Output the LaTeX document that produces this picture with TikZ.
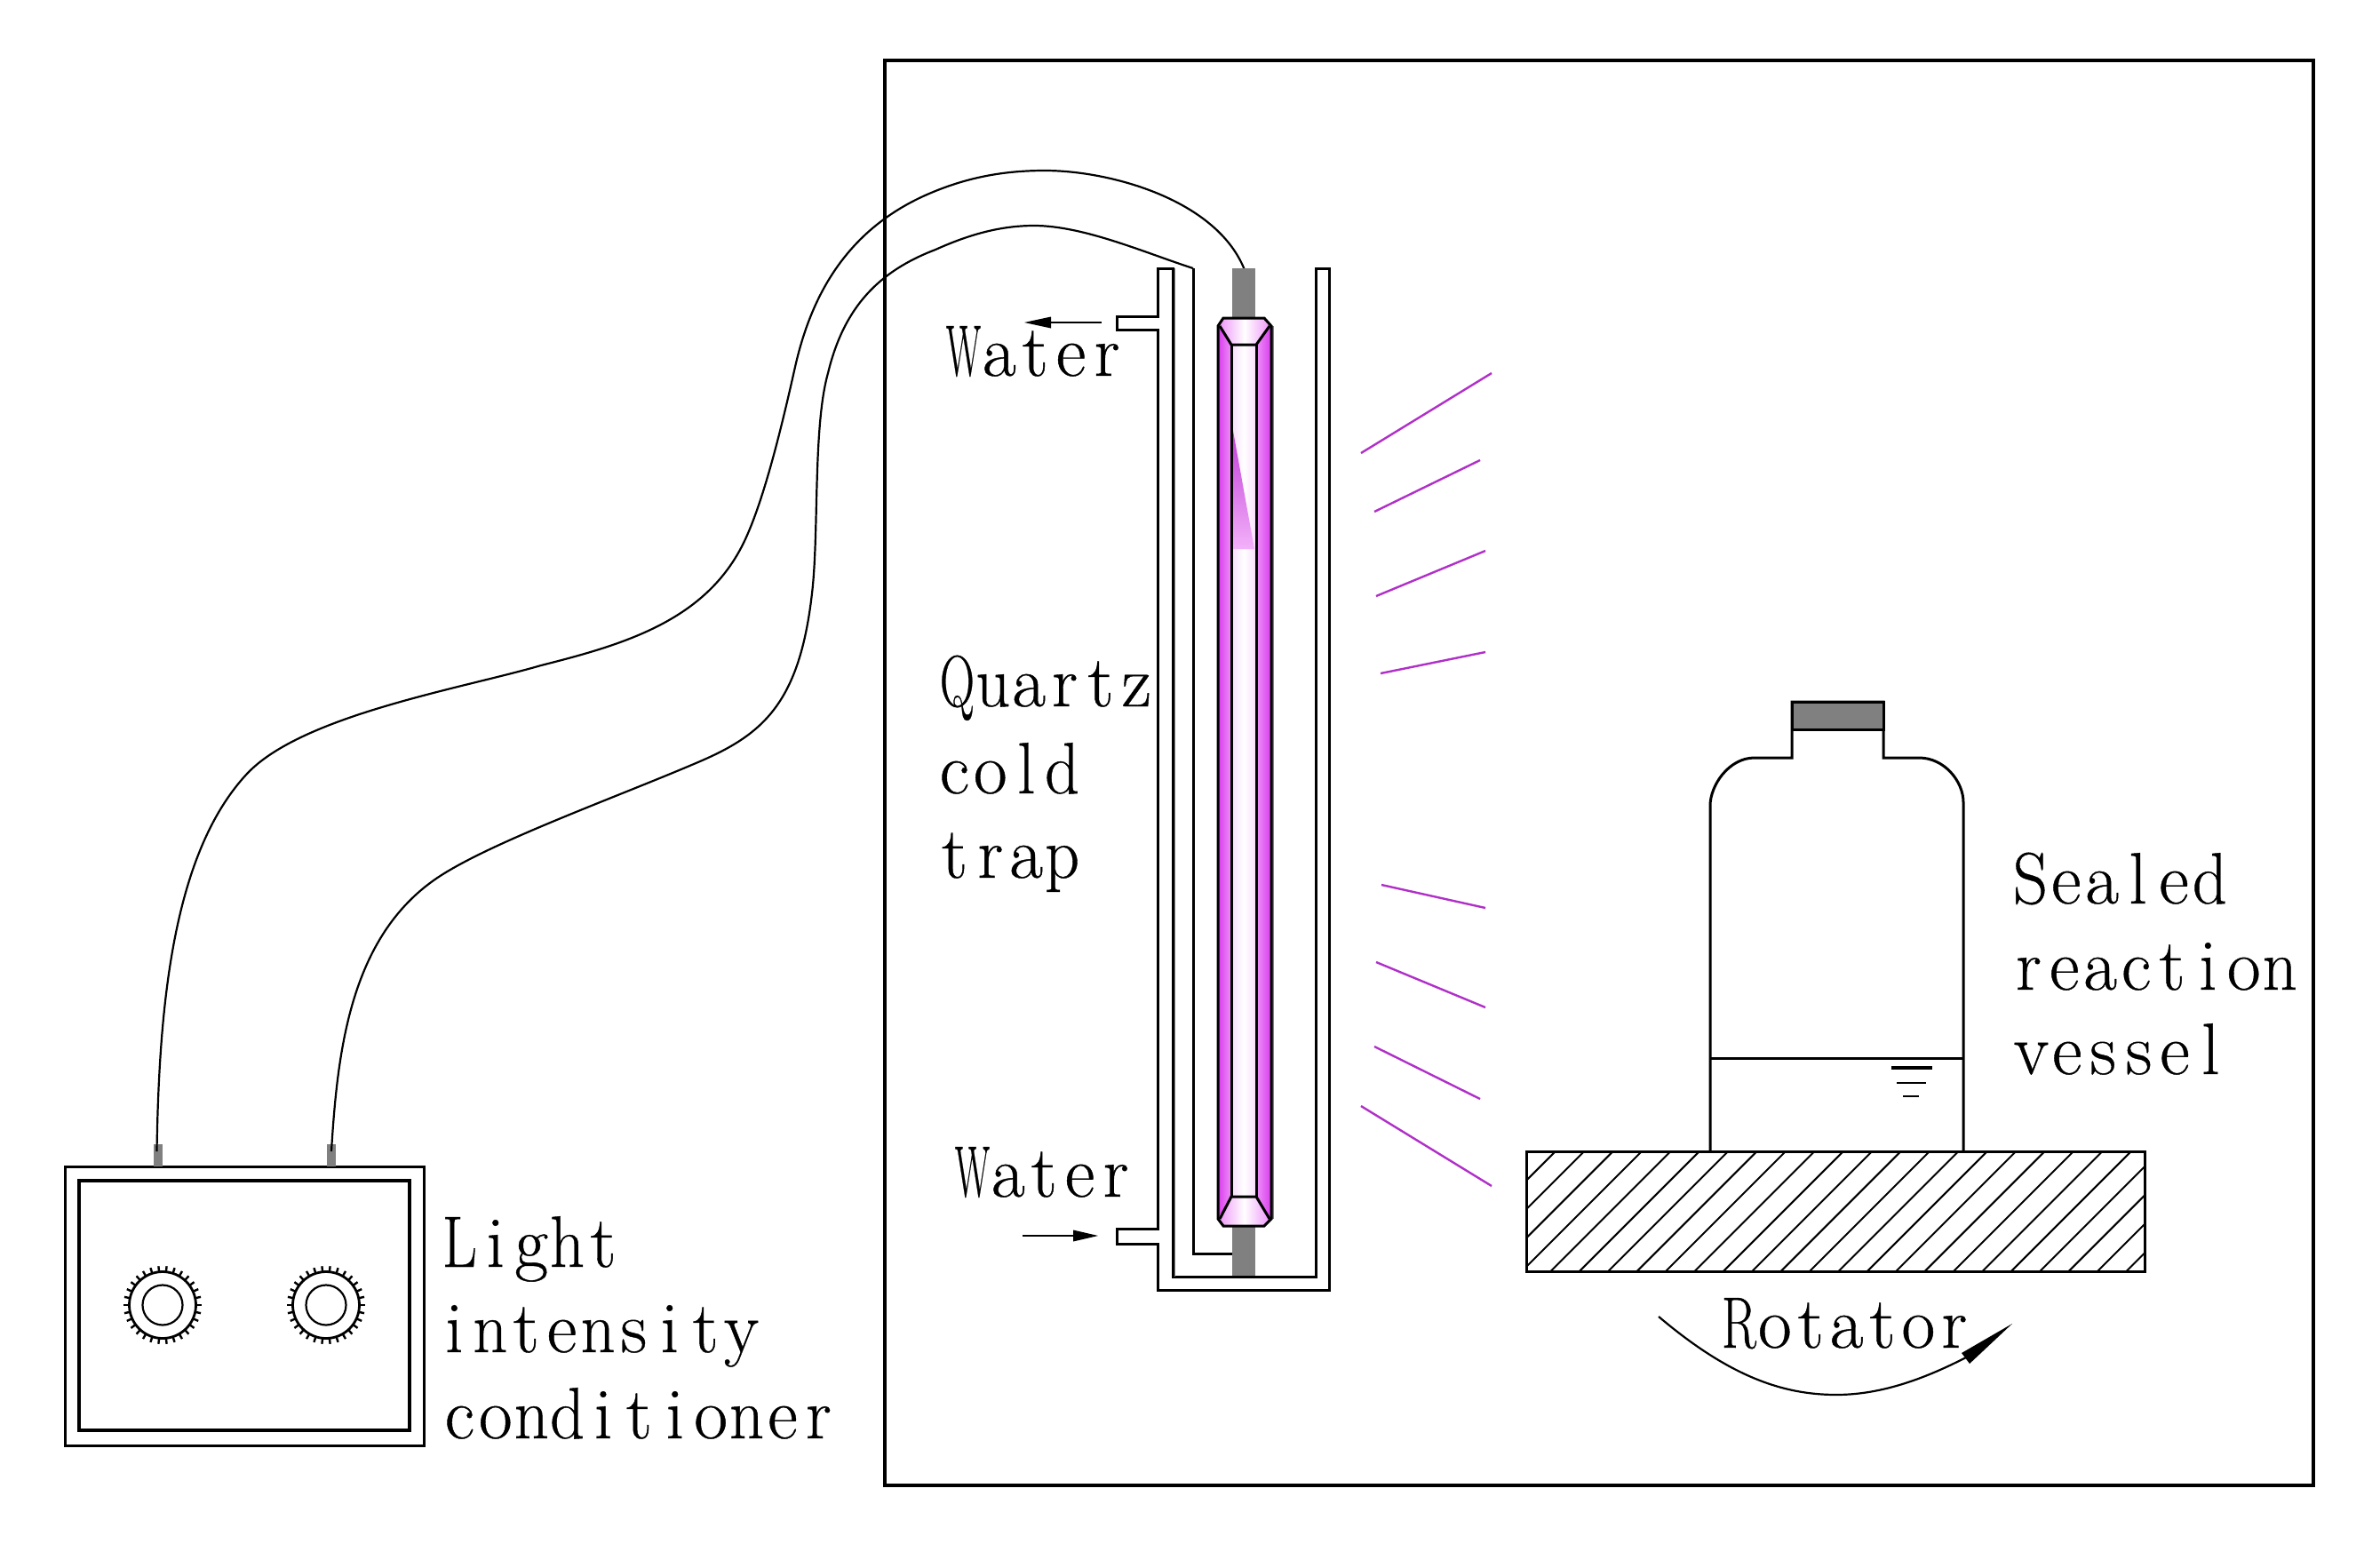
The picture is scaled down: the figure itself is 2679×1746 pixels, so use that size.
\documentclass[tikz,border=0pt]{standalone}
\usepackage{fontspec}
\usepackage{graphicx}
\setmainfont{Latin Modern Roman}[FakeBold=0.5]
\definecolor{uvline}{HTML}{B030C8}
\definecolor{lampdark}{HTML}{D93DEE}
\definecolor{lamplight}{HTML}{EE90F8}
\definecolor{lamppale}{HTML}{F8DCFC}
\definecolor{rodgrey}{HTML}{808080}
\newlength{\mtpitch}\setlength{\mtpitch}{40.4pt}
\newsavebox{\mtbox}
\def\mtchar#1{\sbox{\mtbox}{#1}\ifdim\wd\mtbox>39pt\relax\makebox[\mtpitch][c]{\resizebox{39pt}{\height}{#1}}\else\makebox[\mtpitch][c]{#1}\fi}
\def\mtloop#1{\ifx#1\relax\else\mtchar{#1}\expandafter\mtloop\fi}
\newcommand{\monotext}[1]{\mtloop#1\relax}
\tikzset{
  x=1pt,y=-1pt,
  heavy/.style={line width=3.8pt,black},
  wall/.style={line width=3pt,black,line join=miter},
  thinwall/.style={line width=2.2pt,black},
  wire/.style={line width=2.2pt,black},
  hatchline/.style={line width=2pt,black},
  ray/.style={line width=2.4pt,uvline},
  label/.style={anchor=base west,inner sep=0pt,font=\fontsize{82}{82}\selectfont\addfontfeature{FakeBold=0.5}},
  bandleft/.style={left color=lampdark,right color=lamplight,draw=none},
  bandright/.style={left color=lamplight,right color=lampdark,draw=none},
  bandmid/.style={left color=lamppale,right color=lamppale,middle color=white,draw=none},
  bandcap/.style={left color=lamplight,right color=lamplight,middle color=white,draw=none},
}
\begin{document}
\begin{tikzpicture}
\useasboundingbox (0,0) rectangle (2679,1746);
\fill[white] (0,0) rectangle (2679,1746);
% outer enclosure
\draw[heavy] (996,68) rectangle (2604,1672);
% conditioner box
\draw[wall] (73,1313) rectangle (477,1627);
\draw[line width=3.8pt] (89,1329) rectangle (461,1610);
\fill[rodgrey] (173,1288) rectangle (183,1313);
\fill[rodgrey] (368,1288) rectangle (378,1313);
\foreach \cx in {183,367}{
  \draw[thinwall,line width=2.8pt] (\cx,1469) circle[radius=37.5];
  \draw[thinwall] (\cx,1469) circle[radius=22.5];
  \foreach \a in {0,12,...,348}{
    \draw[line width=2.4pt] ({\cx+37*cos(\a)},{1469+37*sin(\a)}) -- ({\cx+44*cos(\a)},{1469+44*sin(\a)});
  }
}
% wires
\coordinate (knobwire1) at (176.5,1296);
\coordinate (knobwire2) at (373,1296);
\coordinate (lampend) at (1401,304);
\coordinate (trapend) at (1343,302);
\draw[wire] (knobwire1) .. controls (179,1130) and (195,960) .. (278,871)
  .. controls (340,805) and (520,775) .. (609,749)
  .. controls (700,726) and (790,700) .. (834,617)
  .. controls (858,572) and (880,480) .. (895,413)
  .. controls (912,338) and (950,256) .. (1053,215)
  .. controls (1095,198) and (1135,192) .. (1176,192)
  .. controls (1250,192) and (1370,225) .. (lampend);
\draw[wire] (knobwire2) .. controls (380,1180) and (395,1050) .. (497,985)
  .. controls (560,945) and (700,895) .. (788,857)
  .. controls (860,826) and (900,790) .. (914,668)
  .. controls (922,600) and (915,480) .. (932,420)
  .. controls (950,345) and (990,305) .. (1053,281)
  .. controls (1095,262) and (1130,254) .. (1164,254)
  .. controls (1220,254) and (1290,285) .. (trapend);
% cold trap
\draw[wall] (1343,302) -- (1343,1411) -- (1390,1411);
\draw[wall] (1303,302) -- (1320,302) -- (1320,1437) -- (1481,1437) -- (1481,302) -- (1496,302) -- (1496,1452) -- (1303,1452) -- (1303,1400) -- (1257,1400) -- (1257,1383) -- (1303,1383) -- (1303,371) -- (1257,371) -- (1257,356) -- (1303,356) -- cycle;
\draw[line width=1.6pt,rodgrey] (1322.5,302) -- (1322.5,1437);
% lamp
\fill[rodgrey] (1387,302) rectangle (1413,358);
\fill[rodgrey] (1387,1381) rectangle (1413,1436);
\fill[bandleft] (1371,367) rectangle (1386,1372);
\fill[bandright] (1414,367) rectangle (1431,1372);
\fill[bandmid] (1386,388) rectangle (1414,1347);
\fill[bandcap] (1377,358) -- (1423,358) -- (1431,367) -- (1414,388) -- (1386,388) -- (1371,367) -- cycle;
\fill[bandcap] (1386,1347) -- (1414,1347) -- (1431,1372) -- (1423,1380) -- (1377,1380) -- (1370,1372) -- cycle;
\shade[top color=uvline!70!lampdark,bottom color=lamplight!70!white] (1386,474) -- (1412,618) -- (1386,618) -- cycle;
\draw[line width=1.6pt,rodgrey] (1433,367) -- (1433,1372);
\draw[wall] (1377,358) -- (1423,358) -- (1431,367) -- (1431,1372) -- (1423,1380) -- (1377,1380) -- (1371,1372) -- (1371,367) -- cycle;
\draw[wall] (1373,367) -- (1386,388) -- (1414,388) -- (1429,367);
\draw[wall] (1373,1372) -- (1386,1347) -- (1414,1347) -- (1429,1372);
\draw[wall] (1386,388) -- (1386,1347);
\draw[wall] (1414,388) -- (1414,1347);
% water arrows
\draw[line width=2.4pt] (1240,363) -- (1183,363);
\fill (1153,363) -- (1183,356.5) -- (1183,369.5) -- cycle;
\draw[line width=2.4pt] (1151,1391) -- (1208,1391);
\fill (1236,1391) -- (1208,1384.5) -- (1208,1397.5) -- cycle;
% rays
\draw[ray] (1532,510) -- (1679,420);
\draw[ray] (1547,576) -- (1666,518);
\draw[ray] (1549,671) -- (1672,620);
\draw[ray] (1554,758) -- (1672,734);
\draw[ray] (1555,996) -- (1672,1022);
\draw[ray] (1549,1083) -- (1672,1134);
\draw[ray] (1547,1178) -- (1666,1237);
\draw[ray] (1532,1245) -- (1679,1335);
% bottle
\draw[wall] (1925,1296) -- (1925,907) .. controls (1925,884) and (1946,853) .. (1975,853) -- (2017,853) -- (2017,790) -- (2120,790) -- (2120,853) -- (2160,853) .. controls (2189,853) and (2210,880) .. (2210,903) -- (2210,1296);
\filldraw[draw=black,fill=rodgrey,line width=3pt] (2017,790) rectangle (2120,821);
\draw[wall] (1925,1191) -- (2210,1191);
\draw[line width=3.6pt] (2129,1202) -- (2175,1202);
\draw[line width=2.4pt] (2135,1219) -- (2168,1219);
\draw[line width=2.4pt] (2142,1234) -- (2160,1234);
% rotator platform
\begin{scope}
\clip (1718,1296) rectangle (2414,1431);
\foreach \k in {-4,...,21}{
  \draw[hatchline] ({1848+32.4*\k},1296) -- ({1848+32.4*\k-135},1431);
}
\end{scope}
\draw[wall] (1718,1296) rectangle (2414,1431);
% rotation arrow
\draw[line width=2.2pt] (1867,1482) .. controls (1945,1548) and (2005,1570) .. (2067,1570) .. controls (2120,1570) and (2170,1550) .. (2213,1528);
\fill (2265,1490) -- (2208,1523) -- (2217,1535) -- cycle;
% labels
\node[label] (waterout) at (1064,423) {\monotext{Water}};
\node[label] (waterin) at (1074,1347) {\monotext{Water}};
\node[label] (q1) at (1057,795) {\monotext{Quartz}};
\node[label] (q2) at (1054,893) {\monotext{cold}};
\node[label] (q3) at (1054,988) {\monotext{trap}};
\node[label] (c1) at (497,1426) {\monotext{Light}};
\node[label] (c2) at (491,1522) {\monotext{intensity}};
\node[label] (c3) at (497,1619) {\monotext{conditioner}};
\node[label] (s1) at (2265,1017) {\monotext{Sealed}};
\node[label] (s2) at (2263,1114) {\monotext{reaction}};
\node[label] (s3) at (2266,1209) {\monotext{vessel}};
\node[label] (rot) at (1937,1517) {\monotext{Rotator}};
\end{tikzpicture}
\end{document}
